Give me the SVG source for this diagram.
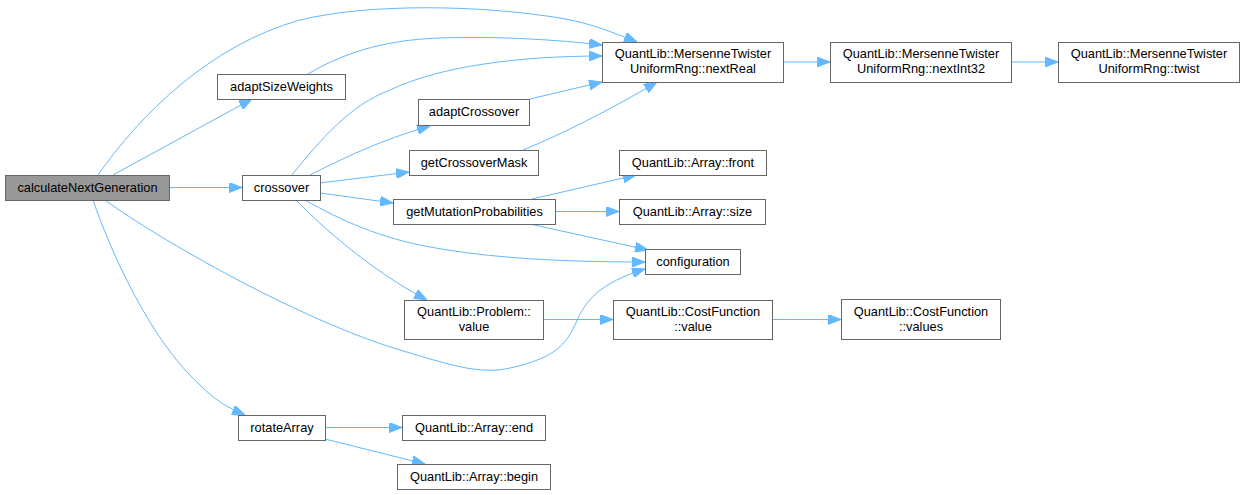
<svg xmlns="http://www.w3.org/2000/svg" width="1244" height="495" viewBox="0 0 1244 495">
<style>
  .n rect { fill: #ffffff; stroke: #666666; stroke-width: 1; }
  .n.root rect { fill: #999999; }
  .n text { font-family: "Liberation Sans", Arial, sans-serif; font-size: 12.8px; fill: #000000; text-anchor: middle; }
  .e path { fill: none; stroke: #63b8ff; stroke-width: 1; marker-end: url(#ah); }
</style>
<defs>
  <marker id="ah" viewBox="0 0 13 10" refX="13" refY="5" markerWidth="13" markerHeight="10" markerUnits="userSpaceOnUse" orient="auto">
    <path d="M0,0 L13,5 L0,10 z" fill="#63b8ff" stroke="#63b8ff" stroke-width="1"/>
  </marker>
</defs>
<rect width="1244" height="495" fill="#ffffff"/>
<g id="edges" class="e">
  <path d="M98,175 C140,115 210,45 300,20 C370,3 480,5 560,18 C590,23 612,32 637,42"/>
  <path d="M113,175 L252,99"/>
  <path d="M169,187.5 L242,187.5"/>
  <path d="M105,200 C160,240 300,320 400,350 C450,365 480,375 510,368 C555,358 565,345 575,325 C585,300 600,283 645,269"/>
  <path d="M93,200 C110,250 150,340 200,385 C215,400 228,408 245,415"/>
  <path d="M308,74 C340,55 380,40 440,38 C500,36 560,40 602,45"/>
  <path d="M292,175 C320,140 350,105 390,90 C440,66 520,56 602,56"/>
  <path d="M310,175 C340,160 380,140 430,126"/>
  <path d="M320,183 L409,172"/>
  <path d="M320,193 L393,203"/>
  <path d="M305,200 C340,220 380,238 430,247 C490,258 560,262 645,262"/>
  <path d="M296,200 C320,225 370,270 427,300"/>
  <path d="M530,99 L602,82"/>
  <path d="M523,150 C560,135 610,110 657,82"/>
  <path d="M532,199 L636,175"/>
  <path d="M555,211.5 L619,211.5"/>
  <path d="M530,224 L648,250"/>
  <path d="M543,319.5 L613,319.5"/>
  <path d="M772,319.5 L841,319.5"/>
  <path d="M783,62 L830,62"/>
  <path d="M1011,62 L1058,62"/>
  <path d="M325,427.5 L402,427.5"/>
  <path d="M325,439 L425,464"/>
</g>
<g id="calculateNextGeneration" class="n root"><rect x="5.5" y="175.5" width="164" height="25"/><text x="87.5" y="192">calculateNextGeneration</text></g>
<g id="adaptSizeWeights" class="n"><rect x="217.5" y="74.5" width="128" height="25"/><text x="281.5" y="91">adaptSizeWeights</text></g>
<g id="crossover" class="n"><rect x="242.5" y="175.5" width="78" height="25"/><text x="281.5" y="192">crossover</text></g>
<g id="rotateArray" class="n"><rect x="238.5" y="415.5" width="87" height="25"/><text x="282" y="432">rotateArray</text></g>
<g id="nextReal" class="n"><rect x="602.5" y="42.5" width="181" height="40"/><text x="693" y="58">QuantLib::MersenneTwister</text><text x="693" y="73">UniformRng::nextReal</text></g>
<g id="nextInt32" class="n"><rect x="830.5" y="42.5" width="181" height="40"/><text x="921" y="58">QuantLib::MersenneTwister</text><text x="921" y="73">UniformRng::nextInt32</text></g>
<g id="twist" class="n"><rect x="1058.5" y="42.5" width="181" height="40"/><text x="1149" y="58">QuantLib::MersenneTwister</text><text x="1149" y="73">UniformRng::twist</text></g>
<g id="adaptCrossover" class="n"><rect x="418.5" y="99.5" width="111" height="26"/><text x="474" y="116">adaptCrossover</text></g>
<g id="getCrossoverMask" class="n"><rect x="409.5" y="150.5" width="129" height="25"/><text x="474" y="167">getCrossoverMask</text></g>
<g id="getMutationProbabilities" class="n"><rect x="393.5" y="199.5" width="162" height="25"/><text x="474.5" y="216">getMutationProbabilities</text></g>
<g id="configuration" class="n"><rect x="645.5" y="249.5" width="95" height="25"/><text x="693" y="266">configuration</text></g>
<g id="problemValue" class="n"><rect x="404.5" y="300.5" width="139" height="39"/><text x="474" y="316">QuantLib::Problem::</text><text x="474" y="331">value</text></g>
<g id="arrayEnd" class="n"><rect x="402.5" y="415.5" width="143" height="25"/><text x="474" y="432">QuantLib::Array::end</text></g>
<g id="arrayBegin" class="n"><rect x="397.5" y="464.5" width="153" height="25"/><text x="474" y="481">QuantLib::Array::begin</text></g>
<g id="arrayFront" class="n"><rect x="619.5" y="150.5" width="147" height="25"/><text x="693" y="167">QuantLib::Array::front</text></g>
<g id="arraySize" class="n"><rect x="619.5" y="199.5" width="146" height="25"/><text x="692.5" y="216">QuantLib::Array::size</text></g>
<g id="costValue" class="n"><rect x="613.5" y="300.5" width="159" height="39"/><text x="693" y="316">QuantLib::CostFunction</text><text x="693" y="331">::value</text></g>
<g id="costValues" class="n"><rect x="841.5" y="299.5" width="159" height="40"/><text x="921" y="316">QuantLib::CostFunction</text><text x="921" y="331">::values</text></g>
</svg>
